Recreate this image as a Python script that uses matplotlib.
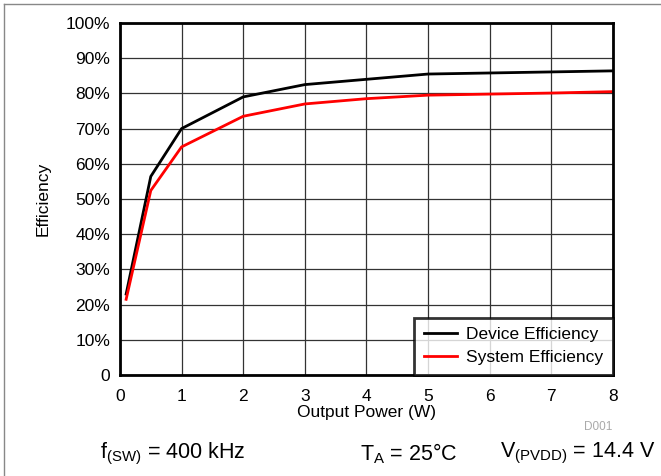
import matplotlib.pyplot as plt
from matplotlib.lines import Line2D

plt.rcParams['font.family'] = ['Liberation Sans', 'DejaVu Sans']

power = [0.1, 0.5, 1, 2, 3, 4, 5, 6, 7, 8]
device_eff = [23, 56.4, 70, 79, 82.5, 84, 85.5, 85.8, 86.1, 86.4]
system_eff = [21.5, 52.4, 64.8, 73.5, 77, 78.5, 79.5, 79.8, 80.1, 80.5]

x_ticks = [0, 1, 2, 3, 4, 5, 6, 7, 8]
y_ticks = list(range(0, 101, 10))
y_labels = ['0'] + [f'{v}%' for v in y_ticks[1:]]

fig = plt.figure(figsize=(6.61, 4.76), dpi=100)
ax = fig.add_axes([0.1815, 0.2122, 0.7458, 0.7395])

ax.plot(power, device_eff, color='black', lw=2, label='Device Efficiency')
ax.plot(power, system_eff, color='#ff0000', lw=2, label='System Efficiency')

ax.set_xlim(0, 8)
ax.set_ylim(0, 100)
ax.set_xticks(x_ticks)
ax.set_yticks(y_ticks)
ax.set_yticklabels(y_labels)
ax.tick_params(length=0, labelsize=12.5)
ax.tick_params(axis='x', pad=10)
ax.tick_params(axis='y', pad=7)
ax.grid(True, color='#333333', lw=0.9)
ax.set_axisbelow(True)
for s in ax.spines.values():
    s.set_linewidth(2)

ax.set_xlabel('Output Power (W)', fontsize=12.5, labelpad=1)
ax.set_ylabel('Efficiency', fontsize=12.5, labelpad=11)

leg = ax.legend(loc='lower right', fontsize=12.5, frameon=True, fancybox=False,
                borderaxespad=0, handlelength=1.9, borderpad=0.55,
                labelspacing=0.45, handletextpad=0.55)
leg.get_frame().set_edgecolor('black')
leg.get_frame().set_linewidth(2)

fig.text(0.927, 0.103, 'D001', fontsize=8.5, color='#aaaaaa', ha='right', va='center')
fig.text(0.151, 0.047, r'$\mathregular{f_{(SW)}}$ = 400 kHz', fontsize=15.5, ha='left', va='center')
fig.text(0.544, 0.047, r'$\mathregular{T_A}$ = 25°C', fontsize=15.5, ha='left', va='center')
fig.text(0.757, 0.047, r'$\mathregular{V_{(PVDD)}}$ = 14.4 V', fontsize=15.5, ha='left', va='center')

# light frame at top and left
fig.add_artist(Line2D([0.006, 0.006], [0, 0.992], transform=fig.transFigure, color='#888888', lw=1))
fig.add_artist(Line2D([0.006, 1], [0.992, 0.992], transform=fig.transFigure, color='#888888', lw=1))

fig.savefig('out.png', dpi=100)
